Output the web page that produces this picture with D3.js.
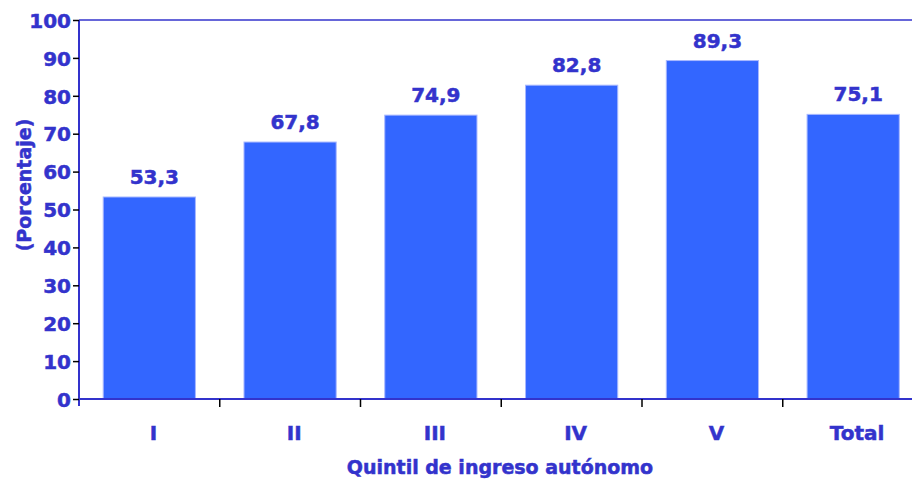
<!DOCTYPE html>
<html>
<head>
<meta charset="utf-8">
<style>
body { margin: 0; background: #fff; }
text { font-family: "DejaVu Sans", Verdana, sans-serif; font-weight: bold; fill: #3333cc; stroke: #3333cc; stroke-width: 0.5px; }
</style>
</head>
<body>
<script src="https://cdn.jsdelivr.net/npm/d3@7"></script>
<script>

var categories = ["I", "II", "III", "IV", "V", "Total"];
var values = [53.3, 67.8, 74.9, 82.8, 89.3, 75.1];
var yTicks = [0, 10, 20, 30, 40, 50, 60, 70, 80, 90, 100];

var width = 912,
    height = 479;

var plotLeft = 79, plotTop = 20, plotBottom = 399, plotRight = 923.5;

var svg = d3.select("body").append("svg")
    .attr("width", width)
    .attr("height", height);

var x = d3.scaleBand()
    .domain(categories)
    .range([plotLeft, plotRight])
    .paddingInner(0.345)
    .paddingOuter(0.172);

var xb = d3.scaleBand()
    .domain(categories)
    .range([plotLeft, plotRight]);

var y = d3.scaleLinear()
    .domain([0, 100])
    .range([plotBottom, plotTop]);

// frame line at the top
svg.append("line")
    .attr("x1", plotLeft).attr("x2", width)
    .attr("y1", y(100)).attr("y2", y(100))
    .style("stroke", "#3333cc")
    .style("stroke-width", 1.5);

// bars
svg.append("g")
    .selectAll("rect")
    .data(values)
    .enter().append("rect")
    .attr("x", function(d, i) { return x(categories[i]); })
    .attr("y", function(d) { return y(d); })
    .attr("width", x.bandwidth())
    .attr("height", function(d) { return y(0) - y(d); })
    .style("fill", "#3366ff")
    .style("stroke", "#a8b8ff")
    .style("stroke-width", 1);

// value labels
svg.append("g")
    .selectAll("text")
    .data(values)
    .enter().append("text")
    .attr("x", function(d, i) { return x(categories[i]) + x.bandwidth() / 2 + 5; })
    .attr("y", function(d) { return y(d) - 13; })
    .attr("text-anchor", "middle")
    .style("font-size", "20px")
    .text(function(d) { return d.toFixed(1).replace(".", ","); });

// y axis
var yAxis = svg.append("g")
    .attr("transform", "translate(" + plotLeft + ",0)")
    .call(d3.axisLeft(y).tickValues(yTicks).tickSize(6).tickPadding(2));
yAxis.select(".domain").style("stroke", "#3333cc").style("stroke-width", 2)
    .attr("d", "M0," + plotTop + "V" + (plotBottom + 7));
yAxis.selectAll(".tick line").style("stroke", "#000").style("stroke-width", 1.5);
yAxis.selectAll(".tick text")
    .style("font-size", "20px")
    .style("font-family", "'DejaVu Sans', Verdana, sans-serif")
    .style("fill", "#3333cc")
    .attr("dy", "0.36em");

// x axis
var xAxis = svg.append("g")
    .attr("transform", "translate(0," + plotBottom + ")")
    .call(d3.axisBottom(xb).tickSize(0).tickPadding(27));
xAxis.select(".domain").style("stroke", "#3333cc").style("stroke-width", 2)
    .attr("d", "M" + plotLeft + ",0H" + width);
xAxis.selectAll(".tick text")
    .attr("x", 4)
    .style("font-size", "20px")
    .style("font-family", "'DejaVu Sans', Verdana, sans-serif")
    .style("fill", "#3333cc");

// category separators
svg.append("g")
    .selectAll("line")
    .data(categories.slice(1))
    .enter().append("line")
    .attr("x1", function(d) { return xb(d); })
    .attr("x2", function(d) { return xb(d); })
    .attr("y1", plotBottom)
    .attr("y2", plotBottom + 8)
    .style("stroke", "#000")
    .style("stroke-width", 1.5);

// axis titles
svg.append("text")
    .attr("x", 500)
    .attr("y", 474)
    .attr("text-anchor", "middle")
    .style("font-size", "19px")
    .text("Quintil de ingreso autónomo");

svg.append("text")
    .attr("transform", "translate(31,185) rotate(-90)")
    .attr("text-anchor", "middle")
    .style("font-size", "19px")
    .text("(Porcentaje)");

</script>
</body>
</html>
